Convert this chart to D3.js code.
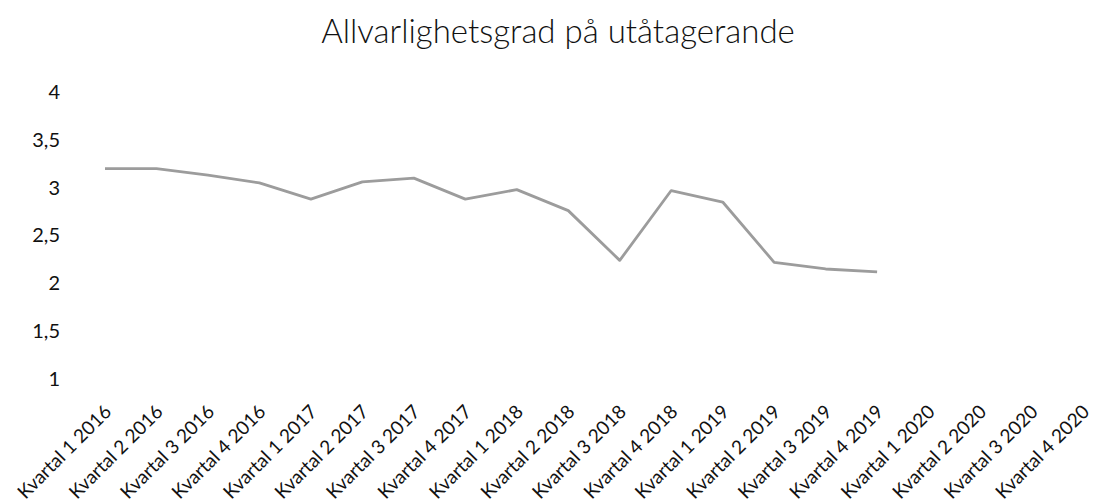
<!DOCTYPE html>
<meta charset="utf-8">
<head>
  <script src="https://d3js.org/d3.v7.min.js"></script>
  <style>
    body { margin: 0; background: #fff; }
    text { font-family: Lato, "Open Sans", sans-serif; fill: #111; }
  </style>
</head>
<body>
  <div id="chart"></div>
  <script>

    // data
    var quarters = ["Kvartal 1 2016", "Kvartal 2 2016", "Kvartal 3 2016", "Kvartal 4 2016",
      "Kvartal 1 2017", "Kvartal 2 2017", "Kvartal 3 2017", "Kvartal 4 2017",
      "Kvartal 1 2018", "Kvartal 2 2018", "Kvartal 3 2018", "Kvartal 4 2018",
      "Kvartal 1 2019", "Kvartal 2 2019", "Kvartal 3 2019", "Kvartal 4 2019",
      "Kvartal 1 2020", "Kvartal 2 2020", "Kvartal 3 2020", "Kvartal 4 2020"];
    var severity = [3.2, 3.2, 3.13, 3.05, 2.88, 3.06, 3.1, 2.88,
      2.98, 2.76, 2.24, 2.97, 2.85, 2.22, 2.15, 2.12];
    var yTicks = [1, 1.5, 2, 2.5, 3, 3.5, 4];
    var title = "Allvarlighetsgrad på utåtagerande";

    var W = 1095, H = 504;

    var svg = d3.select("#chart")
      .append("svg")
      .attr("width", W)
      .attr("height", H);

    var x = d3.scalePoint()
      .domain(quarters)
      .range([105, 1083]);

    var y = d3.scaleLinear()
      .domain([1, 4])
      .range([379, 92]);

    // title
    svg.append("text")
      .attr("x", 558)
      .attr("y", 43)
      .attr("text-anchor", "middle")
      .style("font-size", "33px")
      .style("font-weight", "300")
      .text(title);

    // y axis, labels only
    var yAxis = svg.append("g")
      .attr("transform", "translate(60,0)")
      .call(d3.axisLeft(y).tickValues(yTicks).tickSize(0).tickPadding(0)
        .tickFormat(function (d) { return String(d).replace(".", ","); }));
    yAxis.select(".domain").remove();
    yAxis.selectAll("text")
      .style("font-size", "20px")
      .style("font-family", "Lato, sans-serif")
      .attr("fill", "#111");

    // x axis, rotated labels only
    var xAxis = svg.append("g")
      .attr("transform", "translate(0,392)")
      .call(d3.axisBottom(x).tickSize(0).tickPadding(0));
    xAxis.select(".domain").remove();
    xAxis.selectAll("text")
      .style("font-size", "19px")
      .style("font-family", "Lato, sans-serif")
      .attr("fill", "#111")
      .attr("text-anchor", "end")
      .attr("dy", null)
      .attr("y", 0)
      .attr("transform", "translate(7,21) rotate(-45)");

    // line
    var line = d3.line()
      .x(function (d, i) { return x(quarters[i]); })
      .y(function (d) { return y(d); });

    svg.append("path")
      .datum(severity)
      .attr("fill", "none")
      .attr("stroke", "#9c9c9c")
      .attr("stroke-width", 2.8)
      .attr("stroke-linejoin", "round")
      .attr("d", line);

  </script>
</body>
